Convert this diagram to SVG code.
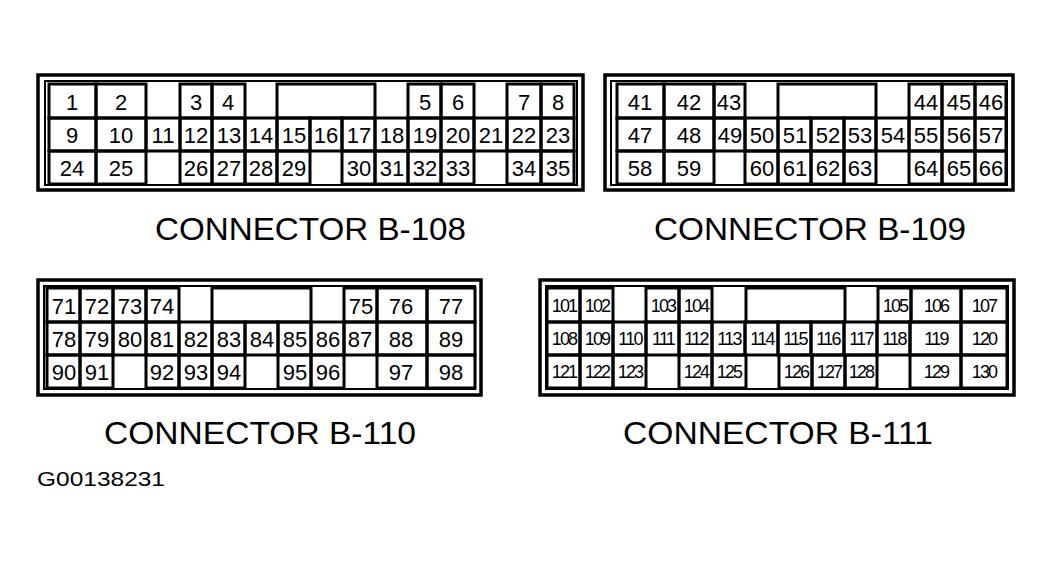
<svg xmlns="http://www.w3.org/2000/svg" width="1052" height="562" viewBox="0 0 1052 562">
<style>
.o{fill:none;stroke:#000;stroke-width:3.5}
.i{fill:none;stroke:#000;stroke-width:2}
.c{fill:none;stroke:#000;stroke-width:3}
text{font-family:"Liberation Sans",Arial,sans-serif;fill:#000}
.n{font-size:22px;text-anchor:middle}
.s{font-size:18px;text-anchor:middle;letter-spacing:-1.8px}
.h{font-size:31px}
</style>
<rect width="1052" height="562" fill="#fff"/>
<g id="b108">
<rect class="o" x="38" y="75" width="545" height="115"/><rect class="i" x="45" y="81" width="532" height="104"/>
<g class="c">
<rect x="49" y="84" width="47" height="34"/><rect x="96" y="84" width="50" height="34"/><rect x="180" y="84" width="32" height="34"/><rect x="212" y="84" width="33" height="34"/><rect x="277" y="84" width="98" height="34"/><rect x="408" y="84" width="33" height="34"/><rect x="441" y="84" width="33" height="34"/><rect x="507" y="84" width="34" height="34"/><rect x="541" y="84" width="33" height="34"/>
<rect x="49" y="118" width="47" height="33"/><rect x="96" y="118" width="50" height="33"/><rect x="146" y="118" width="34" height="33"/><rect x="180" y="118" width="32" height="33"/><rect x="212" y="118" width="33" height="33"/><rect x="245" y="118" width="32" height="33"/><rect x="277" y="118" width="33" height="33"/><rect x="310" y="118" width="32" height="33"/><rect x="342" y="118" width="33" height="33"/><rect x="375" y="118" width="33" height="33"/><rect x="408" y="118" width="33" height="33"/><rect x="441" y="118" width="33" height="33"/><rect x="474" y="118" width="33" height="33"/><rect x="507" y="118" width="34" height="33"/><rect x="541" y="118" width="33" height="33"/>
<rect x="49" y="151" width="47" height="33"/><rect x="96" y="151" width="50" height="33"/><rect x="180" y="151" width="32" height="33"/><rect x="212" y="151" width="33" height="33"/><rect x="245" y="151" width="32" height="33"/><rect x="277" y="151" width="33" height="33"/><rect x="342" y="151" width="33" height="33"/><rect x="375" y="151" width="33" height="33"/><rect x="408" y="151" width="33" height="33"/><rect x="441" y="151" width="33" height="33"/><rect x="507" y="151" width="34" height="33"/><rect x="541" y="151" width="33" height="33"/>
</g>
<g class="n">
<text x="72" y="110">1</text><text x="121" y="110">2</text><text x="196" y="110">3</text><text x="228" y="110">4</text><text x="425" y="110">5</text><text x="458" y="110">6</text><text x="524" y="110">7</text><text x="558" y="110">8</text>
<text x="72" y="143">9</text><text x="121" y="143">10</text><text x="163" y="143">11</text><text x="196" y="143">12</text><text x="229" y="143">13</text><text x="261" y="143">14</text><text x="294" y="143">15</text><text x="326" y="143">16</text><text x="359" y="143">17</text><text x="392" y="143">18</text><text x="425" y="143">19</text><text x="458" y="143">20</text><text x="491" y="143">21</text><text x="524" y="143">22</text><text x="558" y="143">23</text>
<text x="72" y="176">24</text><text x="121" y="176">25</text><text x="196" y="176">26</text><text x="229" y="176">27</text><text x="261" y="176">28</text><text x="294" y="176">29</text><text x="359" y="176">30</text><text x="392" y="176">31</text><text x="425" y="176">32</text><text x="458" y="176">33</text><text x="524" y="176">34</text><text x="558" y="176">35</text>
</g>
<text class="h" x="155" y="240" textLength="311" lengthAdjust="spacingAndGlyphs">CONNECTOR B-108</text>
</g>
<g id="b109">
<rect class="o" x="605" y="75" width="408" height="115"/><rect class="i" x="611" y="81" width="396" height="104"/>
<g class="c">
<rect x="617" y="84" width="47" height="34"/><rect x="664" y="84" width="50" height="34"/><rect x="714" y="84" width="31" height="34"/><rect x="778" y="84" width="98" height="34"/><rect x="909" y="84" width="33" height="34"/><rect x="942" y="84" width="33" height="34"/><rect x="975" y="84" width="31" height="34"/>
<rect x="617" y="118" width="47" height="33"/><rect x="664" y="118" width="50" height="33"/><rect x="714" y="118" width="31" height="33"/><rect x="745" y="118" width="33" height="33"/><rect x="778" y="118" width="33" height="33"/><rect x="811" y="118" width="33" height="33"/><rect x="844" y="118" width="32" height="33"/><rect x="876" y="118" width="33" height="33"/><rect x="909" y="118" width="33" height="33"/><rect x="942" y="118" width="33" height="33"/><rect x="975" y="118" width="31" height="33"/>
<rect x="617" y="151" width="47" height="33"/><rect x="664" y="151" width="50" height="33"/><rect x="745" y="151" width="33" height="33"/><rect x="778" y="151" width="33" height="33"/><rect x="811" y="151" width="33" height="33"/><rect x="844" y="151" width="32" height="33"/><rect x="909" y="151" width="33" height="33"/><rect x="942" y="151" width="33" height="33"/><rect x="975" y="151" width="31" height="33"/>
</g>
<g class="n">
<text x="640" y="110">41</text><text x="689" y="110">42</text><text x="729" y="110">43</text><text x="926" y="110">44</text><text x="959" y="110">45</text><text x="991" y="110">46</text>
<text x="640" y="143">47</text><text x="689" y="143">48</text><text x="730" y="143">49</text><text x="762" y="143">50</text><text x="795" y="143">51</text><text x="828" y="143">52</text><text x="860" y="143">53</text><text x="893" y="143">54</text><text x="926" y="143">55</text><text x="959" y="143">56</text><text x="991" y="143">57</text>
<text x="640" y="176">58</text><text x="689" y="176">59</text><text x="762" y="176">60</text><text x="795" y="176">61</text><text x="828" y="176">62</text><text x="860" y="176">63</text><text x="926" y="176">64</text><text x="959" y="176">65</text><text x="991" y="176">66</text>
</g>
<text class="h" x="654" y="240" textLength="312" lengthAdjust="spacingAndGlyphs">CONNECTOR B-109</text>
</g>
<g id="b110">
<rect class="o" x="38" y="280" width="443" height="115"/><rect class="i" x="44" y="286" width="431" height="103"/>
<g class="c">
<rect x="47" y="288" width="33" height="34"/><rect x="80" y="288" width="33" height="34"/><rect x="113" y="288" width="33" height="34"/><rect x="146" y="288" width="33" height="34"/><rect x="212" y="288" width="99" height="34"/><rect x="344" y="288" width="33" height="34"/><rect x="377" y="288" width="50" height="34"/><rect x="427" y="288" width="48" height="34"/>
<rect x="47" y="322" width="33" height="33"/><rect x="80" y="322" width="33" height="33"/><rect x="113" y="322" width="33" height="33"/><rect x="146" y="322" width="33" height="33"/><rect x="179" y="322" width="33" height="33"/><rect x="212" y="322" width="33" height="33"/><rect x="245" y="322" width="33" height="33"/><rect x="278" y="322" width="33" height="33"/><rect x="311" y="322" width="33" height="33"/><rect x="344" y="322" width="33" height="33"/><rect x="377" y="322" width="50" height="33"/><rect x="427" y="322" width="48" height="33"/>
<rect x="47" y="355" width="33" height="33"/><rect x="80" y="355" width="33" height="33"/><rect x="146" y="355" width="33" height="33"/><rect x="179" y="355" width="33" height="33"/><rect x="212" y="355" width="33" height="33"/><rect x="278" y="355" width="33" height="33"/><rect x="311" y="355" width="33" height="33"/><rect x="377" y="355" width="50" height="33"/><rect x="427" y="355" width="48" height="33"/>
</g>
<g class="n">
<text x="64" y="314">71</text><text x="97" y="314">72</text><text x="130" y="314">73</text><text x="162" y="314">74</text><text x="361" y="314">75</text><text x="401" y="314">76</text><text x="451" y="314">77</text>
<text x="64" y="347">78</text><text x="97" y="347">79</text><text x="130" y="347">80</text><text x="162" y="347">81</text><text x="196" y="347">82</text><text x="229" y="347">83</text><text x="262" y="347">84</text><text x="295" y="347">85</text><text x="328" y="347">86</text><text x="360" y="347">87</text><text x="401" y="347">88</text><text x="451" y="347">89</text>
<text x="64" y="380">90</text><text x="97" y="380">91</text><text x="162" y="380">92</text><text x="196" y="380">93</text><text x="229" y="380">94</text><text x="295" y="380">95</text><text x="328" y="380">96</text><text x="401" y="380">97</text><text x="451" y="380">98</text>
</g>
<text class="h" x="104" y="444" textLength="312" lengthAdjust="spacingAndGlyphs">CONNECTOR B-110</text>
</g>
<g id="b111">
<rect class="o" x="540" y="280" width="474" height="115"/><rect class="i" x="546" y="286" width="462" height="103"/>
<g class="c">
<rect x="547" y="288" width="33" height="34"/><rect x="580" y="288" width="33" height="34"/><rect x="646" y="288" width="33" height="34"/><rect x="679" y="288" width="33" height="34"/><rect x="746" y="288" width="99" height="34"/><rect x="878" y="288" width="33" height="34"/><rect x="911" y="288" width="50" height="34"/><rect x="961" y="288" width="46" height="34"/>
<rect x="547" y="322" width="33" height="33"/><rect x="580" y="322" width="33" height="33"/><rect x="613" y="322" width="33" height="33"/><rect x="646" y="322" width="33" height="33"/><rect x="679" y="322" width="33" height="33"/><rect x="712" y="322" width="33" height="33"/><rect x="745" y="322" width="33" height="33"/><rect x="778" y="322" width="33" height="33"/><rect x="811" y="322" width="33" height="33"/><rect x="844" y="322" width="33" height="33"/><rect x="877" y="322" width="33" height="33"/><rect x="910" y="322" width="51" height="33"/><rect x="961" y="322" width="46" height="33"/>
<rect x="547" y="355" width="33" height="33"/><rect x="580" y="355" width="33" height="33"/><rect x="613" y="355" width="33" height="33"/><rect x="679" y="355" width="33" height="33"/><rect x="712" y="355" width="34" height="33"/><rect x="779" y="355" width="33" height="33"/><rect x="812" y="355" width="33" height="33"/><rect x="845" y="355" width="32" height="33"/><rect x="910" y="355" width="51" height="33"/><rect x="961" y="355" width="46" height="33"/>
</g>
<g class="s">
<text x="564" y="312">101</text><text x="597" y="312">102</text><text x="663" y="312">103</text><text x="696" y="312">104</text><text x="895" y="312">105</text><text x="936" y="312">106</text><text x="984" y="312">107</text>
<text x="564" y="345">108</text><text x="597" y="345">109</text><text x="630" y="345">110</text><text x="663" y="345">111</text><text x="696" y="345">112</text><text x="729" y="345">113</text><text x="762" y="345">114</text><text x="795" y="345">115</text><text x="828" y="345">116</text><text x="861" y="345">117</text><text x="894" y="345">118</text><text x="936" y="345">119</text><text x="984" y="345">120</text>
<text x="564" y="378">121</text><text x="597" y="378">122</text><text x="630" y="378">123</text><text x="696" y="378">124</text><text x="729" y="378">125</text><text x="796" y="378">126</text><text x="829" y="378">127</text><text x="861" y="378">128</text><text x="936" y="378">129</text><text x="984" y="378">130</text>
</g>
<text class="h" x="623" y="444" textLength="310" lengthAdjust="spacingAndGlyphs">CONNECTOR B-111</text>
</g>
<g id="connectors"/>
<text x="37" y="486" font-size="21" textLength="128" lengthAdjust="spacingAndGlyphs">G00138231</text>
</svg>
